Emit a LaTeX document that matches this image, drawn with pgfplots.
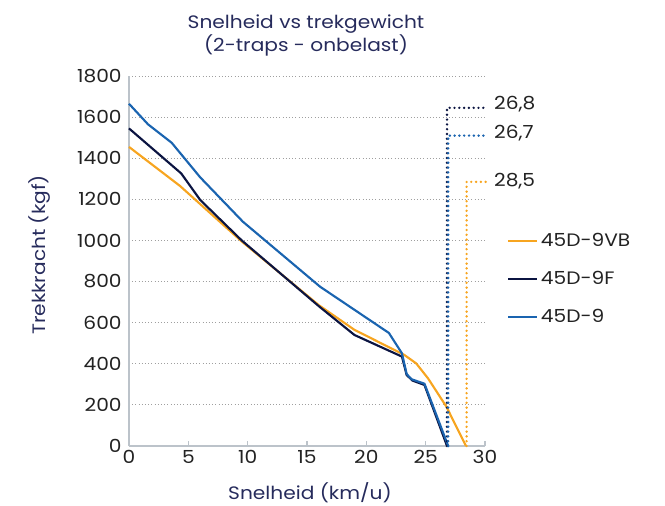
\documentclass[border=0pt]{standalone}
\usepackage{pgfplots}
\pgfplotsset{compat=1.18}
\usepackage{fontspec}
\setmainfont{Poppins}[FakeStretch=1.12]
\definecolor{cOr}{HTML}{F7A520}
\definecolor{cNv}{HTML}{0B1441}
\definecolor{cBl}{HTML}{1A64B0}
\definecolor{cTi}{HTML}{262B5C}
\definecolor{cTk}{HTML}{222222}
\definecolor{cAx}{HTML}{BCC3CA}
\newcommand{\ff}{\fontsize{13.5}{16}\selectfont}
\tikzset{dots/.style={line cap=round, dash pattern=on 0pt off 3.6pt, line width=2pt}}
\begin{document}
\begin{tikzpicture}
\useasboundingbox (-96.75pt,-45pt) rectangle (402pt,334.5pt);
\begin{axis}[
  at={(0pt,0pt)}, anchor=south west,
  scale only axis, width=267pt, height=277.5pt,
  xmin=0, xmax=30, ymin=0, ymax=1800,
  axis lines=left,
  axis line style={draw=cAx, line width=1.1pt, -},
  xtick={0,5,...,30}, ytick={0,200,...,1800},
  ymajorgrids,
  major grid style={dotted, draw=gray!75, line width=0.6pt},
  tick align=inside, major tick length=4pt,
  xtick style={draw=cAx, line width=1pt},
  ytick style={draw=none},
  ticklabel style={font=\ff, color=cTk},
  yticklabel style={xshift=-2pt},
  /pgf/number format/assume math mode=true,
  /pgf/number format/1000 sep={},
  clip=false,
  legend style={at={(rel axis cs:1.05,0.451)}, anchor=west, draw=none, fill=none,
    font=\ff, text=cTk, row sep=13pt},
  legend cell align=left,
  legend image code/.code={\draw[#1, line width=1.4pt] (0pt,0pt) -- (22pt,0pt);},
]
\addplot[cOr, line width=1.6pt] coordinates {(0,1455) (4.3,1265) (9.5,995) (16,685) (19,565) (23.2,443) (24.2,402) (25.2,329) (26.75,191) (28.4,0)};
\addlegendentry{45D-9VB}
\addplot[cNv, line width=1.6pt] coordinates {(0,1545) (4.4,1326) (6,1197) (9.5,1000) (16,680) (19,540) (23,435) (23.4,345) (23.9,318) (24.9,297) (26.8,0)};
\addlegendentry{45D-9F}
\addplot[cBl, line width=1.6pt] coordinates {(0,1665) (1.6,1565) (3.6,1475) (6,1307) (9.6,1091) (16.1,775) (21.9,550) (23.0,451) (23.4,350) (23.8,325) (24.9,303) (26.9,0)};
\addlegendentry{45D-9}
\addplot[cNv, dots, forget plot] coordinates {(26.8,0) (26.8,1645) (30.1,1645)};
\addplot[cBl, dots, forget plot] coordinates {(26.9,0) (26.9,1510) (30.1,1510)};
\addplot[cOr, dots, forget plot] coordinates {(28.45,0) (28.45,1285) (30.1,1285)};
\node[anchor=west, font=\ff, text=cTk, inner sep=0pt] at (axis cs:30.75,1664) {26,8};
\node[anchor=west, font=\ff, text=cTk, inner sep=0pt] at (axis cs:30.75,1523) {26,7};
\node[anchor=west, font=\ff, text=cTk, inner sep=0pt] at (axis cs:30.75,1289) {28,5};
\end{axis}
\node[font=\ff, text=cTi, align=center, inner sep=0pt] at (132.75pt,308pt) {Snelheid vs trekgewicht\\(2-traps - onbelast)};
\node[font=\ff, text=cTi, rotate=90, inner sep=0pt] at (-66.75pt,143.25pt) {Trekkracht (kgf)};
\node[font=\ff, text=cTi, inner sep=0pt] at (135.75pt,-35pt) {Snelheid (km/u)};
\end{tikzpicture}
\end{document}
